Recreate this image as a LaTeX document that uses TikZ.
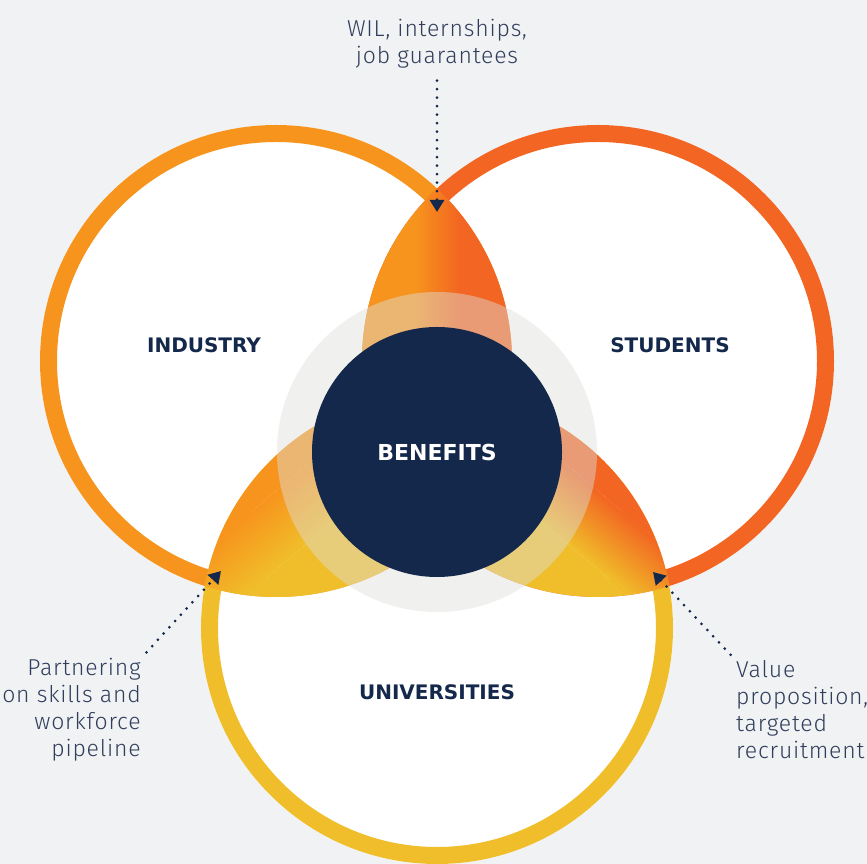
\documentclass[tikz,border=0pt]{standalone}
\usepackage{fontspec}
\newfontfamily\notefont{Fira Sans Light}[LetterSpace=3.5]
\newfontfamily\labelfont{DejaVu Sans}
\usetikzlibrary{arrows.meta}
\definecolor{bgray}{RGB}{241,242,244}
\definecolor{indorange}{RGB}{247,148,29}
\definecolor{stuorange}{RGB}{242,101,34}
\definecolor{uniyellow}{RGB}{240,190,42}
\definecolor{navy}{RGB}{20,40,75}
\definecolor{notetext}{RGB}{48,62,92}
\definecolor{diskgray}{RGB}{222,222,219}
\begin{document}
\begin{tikzpicture}[x=1pt, y=1pt,
  ring/.style={line width=17pt},
  groupname/.style={font=\labelfont\bfseries\fontsize{20}{24}\selectfont, text=navy},
  note/.style={font=\notefont\fontsize{23}{27}\selectfont, text=notetext, inner sep=0pt},
  dotline/.style={navy, line width=3pt, line cap=round, dash pattern=on 0pt off 8.5pt, -{Triangle[width=14pt,length=12pt]}}]
\useasboundingbox (0,0) rectangle (867,864);
\fill[bgray] (0,0) rectangle (867,864);
\coordinate (ind) at (276,503);
\coordinate (stu) at (598,503);
\coordinate (uni) at (437,236);
\coordinate (mid) at (437,412);
\foreach \c in {ind,stu,uni} \fill[white] (\c) circle (236pt);
\draw[ring, indorange] (ind) circle (227.5pt);
\draw[ring, stuorange] (stu) circle (227.5pt);
\draw[ring, uniyellow] (uni) circle (227.5pt);
\begin{scope}
\clip (ind) circle (236pt);
\clip (stu) circle (236pt);
\fill[indorange] (300,300) rectangle (415,700);
\shade[left color=indorange, right color=stuorange] (415,300) rectangle (460,700);
\fill[stuorange] (460,300) rectangle (580,700);
\end{scope}
\begin{scope}
\clip (ind) circle (236pt);
\clip (uni) circle (236pt);
\begin{scope}[transform canvas={shift={(262,322)}, rotate=-50}]
\fill[indorange] (-400,-400) rectangle (-30,400);
\shade[left color=indorange, right color=uniyellow] (-30,-400) rectangle (30,400);
\fill[uniyellow] (30,-400) rectangle (400,400);
\end{scope}
\end{scope}
\begin{scope}
\clip (stu) circle (236pt);
\clip (uni) circle (236pt);
\begin{scope}[transform canvas={shift={(612,322)}, rotate=-130}]
\fill[stuorange] (-400,-400) rectangle (-30,400);
\shade[left color=stuorange, right color=uniyellow] (-30,-400) rectangle (30,400);
\fill[uniyellow] (30,-400) rectangle (400,400);
\end{scope}
\end{scope}
\fill[diskgray, fill opacity=0.45] (mid) circle (160pt);
\fill[navy] (mid) circle (125pt);
\node[groupname, text=white, font=\labelfont\bfseries\fontsize{22}{26}\selectfont] (benefits) at (mid) {BENEFITS};
\node[groupname] (industry) at (204,519) {INDUSTRY};
\node[groupname] (students) at (670,519) {STUDENTS};
\node[groupname] (universities) at (437,172) {UNIVERSITIES};
\node[note, align=center] (wil) at (437,820) {WIL, internships,\\job guarantees};
\node[note, align=right, anchor=east] (partner) at (141,154) {Partnering\\on skills and\\workforce\\pipeline};
\node[note, align=left, anchor=west] (value) at (736,154) {Value\\proposition,\\targeted\\recruitment};
\coordinate (tiptop) at (437,652);
\coordinate (tipleft) at (221,293);
\coordinate (tipright) at (653,292);
\draw[dotline, shorten <=12pt] (wil.south) -- (tiptop);
\draw[dotline, shorten <=8pt] (partner.north east) -- (tipleft);
\draw[dotline, shorten <=8pt] (value.north west) -- (tipright);
\end{tikzpicture}
\end{document}
